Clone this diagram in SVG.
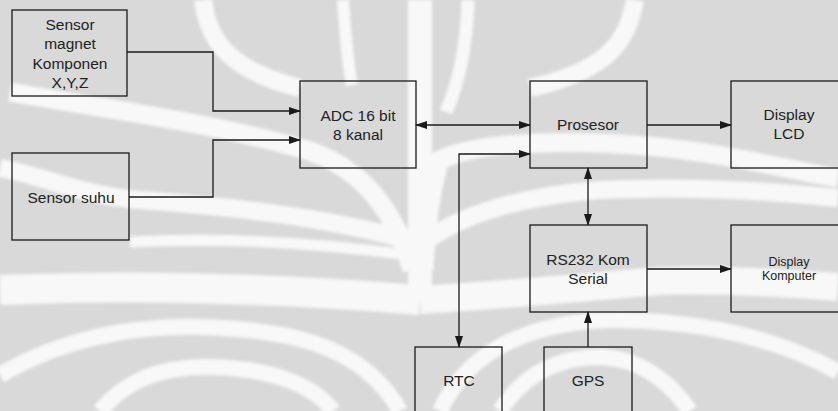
<svg xmlns="http://www.w3.org/2000/svg" width="838" height="411" viewBox="0 0 838 411">
<style>
.box{fill:none;stroke:#1a1a1a;stroke-width:1.3}
.t{font-family:"Liberation Sans",Arial,sans-serif;font-size:15.5px;fill:#222;text-anchor:middle}
.ts{font-size:12.5px}
.con{fill:none;stroke:#1a1a1a;stroke-width:1.3}
.wm{fill:none;stroke:#f8f8f8;stroke-linecap:butt}
</style>
<defs>
<marker id="ah" markerUnits="userSpaceOnUse" markerWidth="12" markerHeight="8" refX="11" refY="4" orient="auto-start-reverse" viewBox="0 0 12 8">
<path d="M0,0 L12,4 L0,8 z" fill="#1a1a1a"/>
</marker>
<filter id="soft" x="-5%" y="-5%" width="110%" height="110%">
<feGaussianBlur stdDeviation="1.8"/>
</filter>
</defs>
<g id="watermark">
<rect x="0" y="0" width="838" height="411" fill="#d9d9d9"/>
<g class="wm" filter="url(#soft)">
<path d="M203,0 C208,40 228,70 300,88" stroke-width="18"/>
<path d="M343,0 C345,30 347,60 352,85" stroke-width="12"/>
<path d="M420,0 V290" stroke-width="24"/>
<path d="M10,92 C80,105 200,120 300,148 C360,165 395,210 412,270" stroke-width="19"/>
<path d="M0,168 C40,175 80,195 140,200 C220,206 320,215 415,242" stroke-width="18"/>
<path d="M130,242 C200,238 300,240 415,256" stroke-width="11"/>
<path d="M0,290 C150,284 300,290 420,300" stroke-width="30"/>
<path d="M0,375 C60,340 130,325 200,327 C280,330 360,340 400,411" stroke-width="16"/>
<path d="M100,411 C130,375 170,366 210,367 C260,368 310,380 333,411" stroke-width="16"/>
<path d="M635,0 C628,40 610,70 530,88" stroke-width="18"/>
<path d="M468,0 C467,40 460,80 446,112" stroke-width="13"/>
<path d="M838,178 C790,170 720,152 647,146 C580,140 480,140 440,160 C430,190 426,230 424,270" stroke-width="19"/>
<path d="M838,198 C760,190 680,186 600,190 C520,196 460,215 425,242" stroke-width="18"/>
<path d="M838,287 C770,282 700,278 647,282 C560,290 480,296 420,300" stroke-width="28"/>
<path d="M440,411 C470,345 540,320 620,320 C720,322 790,345 838,372" stroke-width="16"/>
<path d="M500,411 C525,372 560,357 600,357 C640,358 670,382 690,411" stroke-width="16"/>
</g>
</g>
<g id="connectors">
<path class="con" d="M127,52 H213 V111 H300" marker-end="url(#ah)"/>
<path class="con" d="M129,197 H213 V140 H300" marker-end="url(#ah)"/>
<path class="con" d="M416,125 H530" marker-start="url(#ah)" marker-end="url(#ah)"/>
<path class="con" d="M530,154 H459 V347" marker-start="url(#ah)" marker-end="url(#ah)"/>
<path class="con" d="M588,168 V225" marker-start="url(#ah)" marker-end="url(#ah)"/>
<path class="con" d="M647,125 H731" marker-end="url(#ah)"/>
<path class="con" d="M647,269 H731" marker-end="url(#ah)"/>
<path class="con" d="M588,347 V312" marker-end="url(#ah)"/>
</g>
<g id="sensor-magnet">
<rect class="box" x="12" y="10" width="115" height="86"/>
<text class="t" x="70" y="29.5">Sensor</text>
<text class="t" x="70" y="49">magnet</text>
<text class="t" x="70" y="68.5">Komponen</text>
<text class="t" x="70" y="87.5">X,Y,Z</text>
</g>
<g id="sensor-suhu">
<rect class="box" x="12" y="153" width="117" height="87"/>
<text class="t" x="71" y="202.5">Sensor suhu</text>
</g>
<g id="adc">
<rect class="box" x="300" y="81" width="116" height="87"/>
<text class="t" x="358" y="120.5">ADC 16 bit</text>
<text class="t" x="358" y="139.5">8 kanal</text>
</g>
<g id="prosesor">
<rect class="box" x="530" y="81" width="117" height="87"/>
<text class="t" x="588" y="129.5">Prosesor</text>
</g>
<g id="display-lcd">
<rect class="box" x="731" y="81" width="116" height="87"/>
<text class="t" x="789" y="119.5">Display</text>
<text class="t" x="789" y="138.5">LCD</text>
</g>
<g id="rs232">
<rect class="box" x="530" y="225" width="117" height="87"/>
<text class="t" x="588" y="264.5">RS232 Kom</text>
<text class="t" x="588" y="283.5">Serial</text>
</g>
<g id="display-komputer">
<rect class="box" x="731" y="225" width="116" height="87"/>
<text class="t ts" x="789" y="265.5">Display</text>
<text class="t ts" x="789" y="279.5">Komputer</text>
</g>
<g id="rtc">
<rect class="box" x="415" y="347" width="87" height="80"/>
<text class="t" x="459" y="385.5">RTC</text>
</g>
<g id="gps">
<rect class="box" x="544" y="347" width="88" height="80"/>
<text class="t" x="588" y="385.5">GPS</text>
</g>
</svg>
